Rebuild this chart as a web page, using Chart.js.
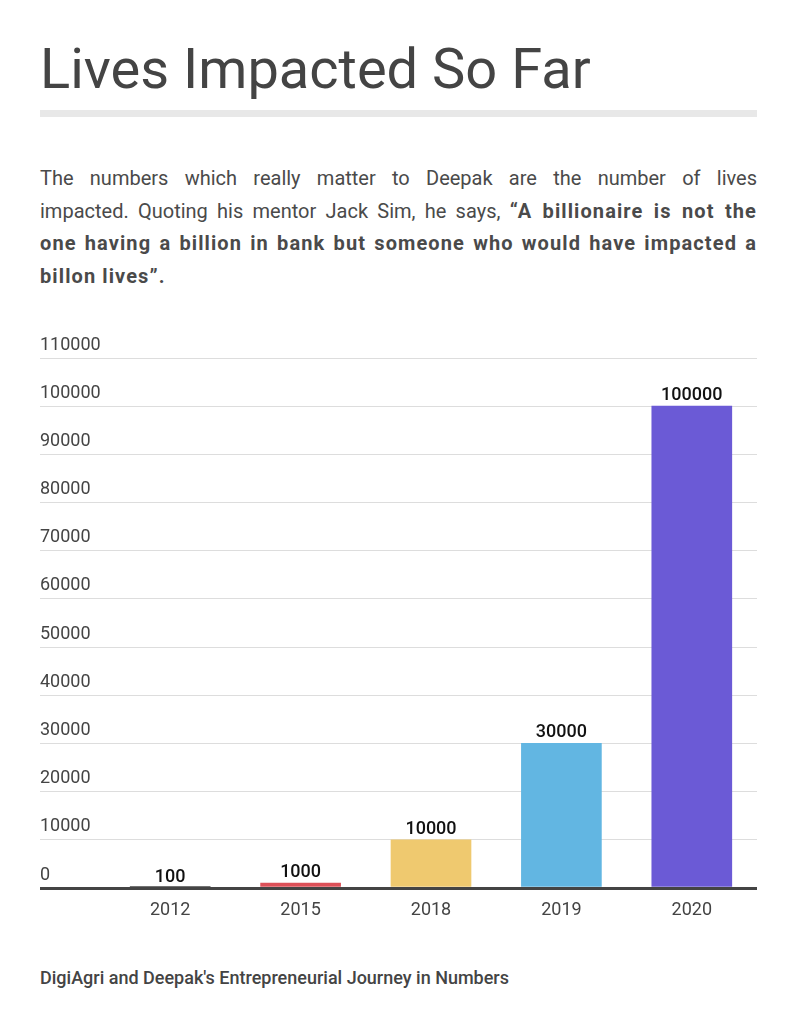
<!DOCTYPE html>
<html>
<head>
<meta charset="utf-8">
<script src="https://cdn.jsdelivr.net/npm/chart.js@4"></script>
<style>
  html, body { margin: 0; padding: 0; background: #fff; }
  body { width: 795px; height: 1024px; position: relative; overflow: hidden; font-family: Roboto, "Noto Sans", sans-serif; color: #444; }
  #title { position: absolute; left: 40px; top: 41px; font-size: 56px; line-height: 56px; font-weight: 400; color: #444; white-space: nowrap; }
  #rule { position: absolute; left: 40px; top: 110px; width: 717px; height: 7px; background: #e8e8e8; }
  #para { position: absolute; left: 40px; top: 162px; width: 717px; font-size: 20px; line-height: 32.7px; color: #4a4a4a; }
  #para .l { display: block; text-align: justify; text-align-last: justify; white-space: nowrap; }
  #para .last { text-align-last: left; }
  #para b { font-weight: 700; letter-spacing: 1.1px; }
  #chartBox { position: absolute; left: 40px; top: 320px; width: 717px; height: 610px; }
  #footer { position: absolute; left: 40px; top: 969px; font-size: 18px; line-height: 18px; font-weight: 500; color: #444; white-space: nowrap; }
</style>
</head>
<body>
<div id="title">Lives Impacted So Far</div>
<div id="rule"></div>
<div id="para">
  <span class="l">The numbers which really matter to Deepak are the number of lives</span>
  <span class="l">impacted. Quoting his mentor Jack Sim, he says, <b>“A billionaire is not the</b></span>
  <span class="l"><b>one having a billion in bank but someone who would have impacted a</b></span>
  <span class="l last"><b>billon lives”.</b></span>
</div>
<div id="chartBox"><canvas id="c"></canvas></div>
<div id="footer">DigiAgri and Deepak's Entrepreneurial Journey in Numbers</div>
<script>
const categories = ['2012', '2015', '2018', '2019', '2020'];
const livesImpacted = [100, 1000, 10000, 30000, 100000];
const barColors = ['#444444', '#dc5058', '#efc96f', '#62b6e2', '#6b5ad6'];
const yMin = 0;
const yMax = 110000;
const yStep = 10000;

const valueLabels = {
  id: 'valueLabels',
  afterDatasetsDraw(chart) {
    const ctx = chart.ctx;
    const meta = chart.getDatasetMeta(0);
    ctx.save();
    ctx.font = '500 18px Roboto';
    ctx.fillStyle = '#111';
    ctx.textAlign = 'center';
    ctx.textBaseline = 'alphabetic';
    meta.data.forEach((bar, i) => {
      ctx.fillText(String(chart.data.datasets[0].data[i]), bar.x, bar.y - 6);
    });
    ctx.restore();
  }
};

new Chart(document.getElementById('c'), {
  type: 'bar',
  data: {
    labels: categories,
    datasets: [{
      data: livesImpacted,
      backgroundColor: barColors,
      borderWidth: 0,
      barThickness: 80
    }]
  },
  options: {
    responsive: true,
    maintainAspectRatio: false,
    animation: false,
    layout: { padding: { top: 38, right: 0, bottom: 0, left: 0 } },
    plugins: { legend: { display: false }, tooltip: { enabled: false } },
    scales: {
      x: {
        z: 1,
        grid: { display: false, drawTicks: false },
        border: { display: true, color: '#444', width: 3 },
        ticks: { color: '#444', font: { family: 'Roboto', size: 18 }, padding: 12 },
        afterFit(scale) { scale.height = 42; }
      },
      y: {
        min: yMin,
        max: yMax,
        border: { display: false },
        grid: {
          color: (c) => c.tick && c.tick.value === 0 ? '#444' : '#dddddd',
          lineWidth: (c) => c.tick && c.tick.value === 0 ? 3 : 1,
          drawTicks: true,
          tickLength: 65
        },
        ticks: {
          stepSize: yStep,
          crossAlign: 'far',
          labelOffset: -13,
          padding: 0,
          color: '#444',
          font: { family: 'Roboto', size: 18 },
          callback: (v) => String(v)
        },
        afterFit(scale) { scale.width = 65; }
      }
    }
  },
  plugins: [valueLabels]
});
</script>
</body>
</html>
